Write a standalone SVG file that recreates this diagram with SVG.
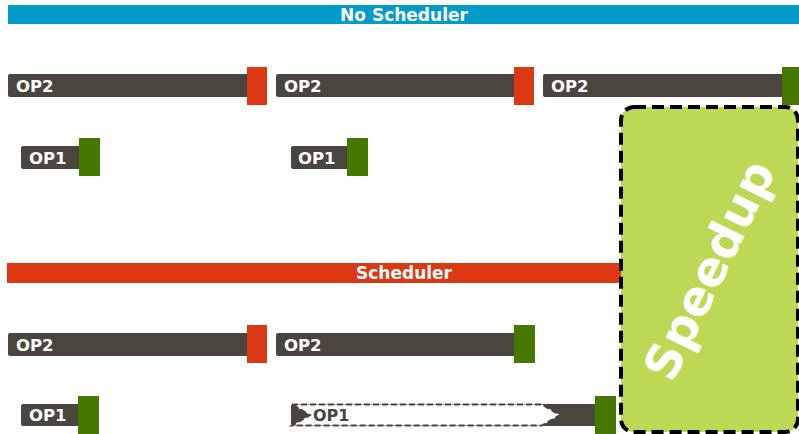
<svg xmlns="http://www.w3.org/2000/svg" width="799" height="434" viewBox="0 0 799 434">
<style>
.bar{fill:#4a453f}
.red{fill:#dc3814}
.grn{fill:#467800}
.lbl{font-family:"DejaVu Sans",sans-serif;font-weight:bold;font-size:16.5px;fill:#fff}
.hdr{font-family:"DejaVu Sans",sans-serif;font-weight:bold;font-size:17px;fill:#fff;text-anchor:middle}
</style>
<rect width="799" height="434" fill="#fff"/>
<g id="no-scheduler">
<rect x="8" y="5" width="791" height="19" fill="#009bc8"/>
<text class="hdr" x="404" y="21">No Scheduler</text>
</g>
<g id="ns-op2-1"><rect class="bar" x="8" y="74" width="241" height="23" rx="2"/><text class="lbl" x="16" y="92">OP2</text><rect class="red" x="247" y="67" width="20" height="38"/></g>
<g id="ns-op2-2"><rect class="bar" x="276" y="74" width="240" height="23" rx="2"/><text class="lbl" x="284" y="92">OP2</text><rect class="red" x="514" y="67" width="20" height="38"/></g>
<g id="ns-op2-3"><rect class="bar" x="543" y="74" width="241" height="23" rx="2"/><text class="lbl" x="551" y="92">OP2</text><rect class="grn" x="782" y="67" width="17" height="38"/></g>
<g id="ns-op1-1"><rect class="bar" x="21" y="146" width="60" height="23" rx="2"/><text class="lbl" x="29" y="164">OP1</text><rect class="grn" x="79" y="138" width="21" height="38"/></g>
<g id="ns-op1-2"><rect class="bar" x="291" y="146" width="58" height="23" rx="2"/><text class="lbl" x="298" y="164">OP1</text><rect class="grn" x="347" y="138" width="21" height="38"/></g>
<g id="scheduler">
<rect x="7" y="263" width="614" height="20" fill="#dc3814"/>
<text class="hdr" x="404" y="279">Scheduler</text>
</g>
<g id="s-op2-1"><rect class="bar" x="8" y="333" width="241" height="23" rx="2"/><text class="lbl" x="16" y="351">OP2</text><rect class="red" x="247" y="325" width="20" height="38"/></g>
<g id="s-op2-2"><rect class="bar" x="276" y="333" width="240" height="23" rx="2"/><text class="lbl" x="284" y="351">OP2</text><rect class="grn" x="514" y="325" width="21" height="38"/></g>
<g id="s-op1-1"><rect class="bar" x="21" y="404" width="59" height="22" rx="2"/><text class="lbl" x="29" y="421">OP1</text><rect class="grn" x="78" y="396" width="21" height="38"/></g>
<g id="s-op1-2">
<rect class="bar" x="291" y="404" width="306" height="22" rx="2"/>
<path d="M292 404.5 L542 404.5 L560 415 L542 425.5 L292 425.5 L310 415 Z" fill="#fff" stroke="#4a453f" stroke-width="2" stroke-dasharray="6,3"/>
<text x="313" y="421" font-family="DejaVu Sans,sans-serif" font-weight="bold" font-size="16" fill="#4a453f">OP1</text>
<rect class="grn" x="595" y="396" width="21" height="38"/>
</g>
<g id="speedup">
<rect x="621" y="107" width="177" height="325" rx="13" fill="#bbd954" stroke="#000" stroke-width="4" stroke-dasharray="12,6"/>
<text x="709" y="270" font-family="DejaVu Sans,sans-serif" font-weight="bold" font-size="48" fill="#fff" text-anchor="middle" dominant-baseline="central" transform="rotate(-64 709 270)">Speedup</text>
</g>
</svg>
